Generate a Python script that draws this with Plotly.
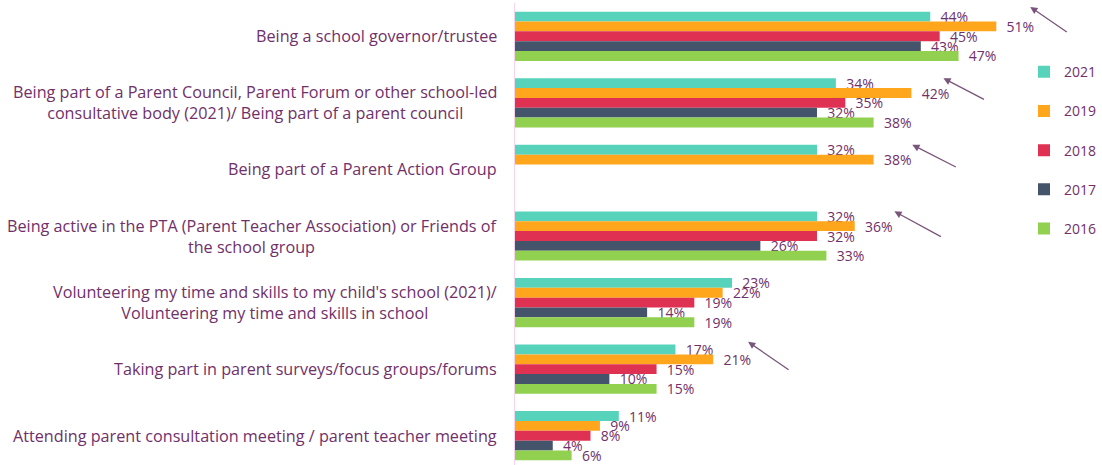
import plotly.graph_objects as go

# Activities, listed top to bottom
categories = [
    "Being a school governor/trustee",
    "Being part of a Parent Council, Parent Forum or other school-led<br>consultative body (2021)/ Being part of a parent council",
    "Being part of a Parent Action Group",
    "Being active in the PTA (Parent Teacher Association) or Friends of<br>the school group",
    "Volunteering my time and skills to my child's school (2021)/<br>Volunteering my time and skills in school",
    "Taking part in parent surveys/focus groups/forums",
    "Attending parent consultation meeting / parent teacher meeting",
]

years = ["2021", "2019", "2018", "2017", "2016"]

# Percentage of parents per activity and survey year (None = not asked)
pct_2021 = [44, 34, 32, 32, 23, 17, 11]
pct_2019 = [51, 42, 38, 36, 22, 21, 9]
pct_2018 = [45, 35, None, 32, 19, 15, 8]
pct_2017 = [43, 32, None, 26, 14, 10, 4]
pct_2016 = [47, 38, None, 33, 19, 15, 6]

series = [pct_2021, pct_2019, pct_2018, pct_2017, pct_2016]
colors = ["#56D3BA", "#FFA61C", "#DF3152", "#44546A", "#92D050"]

TEXT = "#70306A"
FONT = "Open Sans"

fig = go.Figure()
for year, vals, col in zip(years, series, colors):
    fig.add_trace(go.Bar(
        name=year,
        y=categories,
        x=vals,
        orientation="h",
        marker=dict(color=col, line=dict(width=0)),
        text=[None if v is None else f"\u00a0\u00a0{v}%" for v in vals],
        textposition="outside",
        textfont=dict(family=FONT, size=14, color=TEXT),
        constraintext="none",
        cliponaxis=False,
        legendgroup=year,
        hoverinfo="skip",
    ))

# Category labels, centred line-by-line to the left of the axis
annotations = []
for cat in categories:
    annotations.append(dict(
        x=0, xref="paper", y=cat, yref="y",
        text=cat, showarrow=False,
        xanchor="right", align="center", xshift=-16,
        font=dict(family=FONT, size=16.2, color=TEXT),
    ))

# Trend arrows beside selected groups: (x %, y index, tail dx, tail dy)
arrows = [
    (54.6, -0.44, 38, 26),
    (45.4, 0.63, 42, 22),
    (42.1, 1.63, 45, 23),
    (40.2, 2.63, 48, 26),
    (24.7, 4.59, 42, 29),
]
for ax_x, ax_y, dx, dy in arrows:
    annotations.append(dict(
        x=ax_x, y=ax_y, xref="x", yref="y",
        ax=dx, ay=dy, axref="pixel", ayref="pixel",
        text="", showarrow=True,
        arrowhead=2, arrowsize=1.1, arrowwidth=1.3,
        arrowcolor="#7A557A",
    ))

fig.update_layout(
    width=1102, height=465,
    margin=dict(l=515, r=0, t=3, b=0),
    paper_bgcolor="white", plot_bgcolor="white",
    barmode="group", bargap=0.261, bargroupgap=0,
    font=dict(family=FONT, color=TEXT),
    showlegend=True,
    legend=dict(
        x=1.0, xanchor="right", xref="paper",
        y=0.885, yanchor="top",
        font=dict(family=FONT, size=14, color=TEXT),
        tracegroupgap=18,
        itemwidth=30,
        bgcolor="rgba(0,0,0,0)",
    ),
    annotations=annotations,
)

fig.update_xaxes(visible=False, range=[0, 62.2])
fig.update_yaxes(
    range=[6.44, -0.5],
    showticklabels=False,
    showline=True, linecolor="#F6D4F0", linewidth=1,
    showgrid=False, zeroline=False, ticks="",
)

fig.write_html("out.html")
